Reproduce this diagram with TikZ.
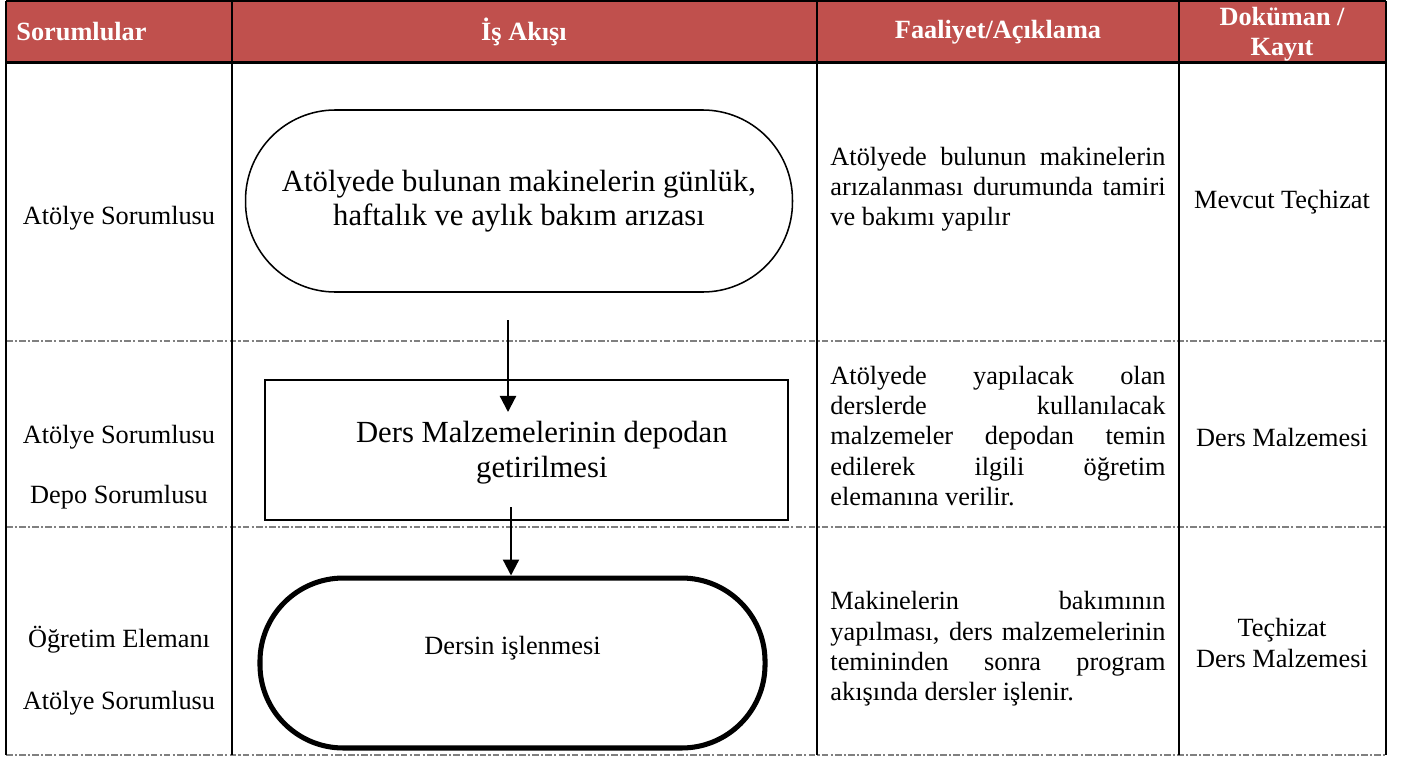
\documentclass[tikz,border=0pt]{standalone}
\usepackage{fontspec}
\setmainfont{Liberation Serif}
\usetikzlibrary{arrows.meta}
\definecolor{hdrred}{HTML}{C0504D}
\newcommand{\jline}[1]{\makebox[152.8pt][s]{#1}}

\begin{document}
\begin{tikzpicture}[x=0.456pt, y=-0.456pt,
  hdr/.style={text=white, font=\bfseries\fontsize{12}{12.5}\selectfont, inner sep=0pt},
  cell/.style={font=\fontsize{12}{13.8}\selectfont, inner sep=0pt},
  desc/.style={cell, anchor=west, align=left},
  term/.style={draw, rounded corners=#1, inner sep=0pt, align=center},
  flow/.style={-{Triangle[width=7.3pt,length=7.3pt]}, line width=1pt},
  rule/.style={line width=0.9pt},
  sep/.style={gray, line width=0.5pt, dash pattern=on 3pt off 1pt on 1pt off 1pt}]
\useasboundingbox (0,0) rectangle (1409,760);

% Table
\fill[hdrred] (6,1) rectangle (1386,62);
\foreach \y in {341,527,755}
  \draw[sep] (6,\y) -- (1386,\y);
\foreach \x in {6,232,817,1179,1386}
  \draw[rule] (\x,1) -- (\x,755);
\draw[rule] (6,1) -- (1386,1);
\draw[line width=1.8pt] (6,62.5) -- (1386,62.5);

% Header
\node[hdr, anchor=west] (hsor) at (16,32) {Sorumlular};
\node[hdr] (hakis) at (524,32) {İş Akışı};
\node[hdr] (hfaal) at (998,32) {Faaliyet/Açıklama};
\node[hdr, align=center, font=\bfseries\fontsize{12}{13.5}\selectfont] (hdok) at (1282,34) {Doküman /\\Kayıt};

% Sorumlular
\node[cell] (sor1) at (119,218) {Atölye Sorumlusu};
\node[cell] (sor2a) at (119,437) {Atölye Sorumlusu};
\node[cell] (sor2b) at (119,497) {Depo Sorumlusu};
\node[cell] (sor3a) at (119,640) {Öğretim Elemanı};
\node[cell] (sor3b) at (119,703) {Atölye Sorumlusu};

% Define the nodes
\node[term=41pt, line width=0.7pt, minimum width=249.4pt, minimum height=83pt,
  font=\fontsize{14}{15.5}\selectfont] (bakim) at (519,201)
  {Atölyede bulunan makinelerin günlük,\\haftalık ve aylık bakım arızası};
\node[draw, line width=0.9pt, inner sep=0pt, minimum width=238.5pt, minimum height=63.8pt,
  align=center, text depth=1pt, font=\fontsize{14}{16}\selectfont] (malzeme) at (526.5,450)
  {\hspace*{14pt}Ders Malzemelerinin depodan\\\hspace*{14pt}getirilmesi};
\node[term=38pt, line width=2.3pt, minimum width=230.3pt, minimum height=77.5pt,
  text depth=16pt, font=\fontsize{12}{13.8}\selectfont] (dersin) at (512.5,663)
  {Dersin işlenmesi};

% Connect the nodes
\coordinate (ok1) at (508,320);
\coordinate (ok1e) at (508,412);
\coordinate (ok2) at (511,507);
\draw[flow] (ok1) -- (ok1e);
\draw[flow] (ok2) -- (ok2 |- dersin.north);

% Faaliyet/Aciklama
\node[desc] (faal1) at (830,189)
  {\jline{Atölyede bulunun makinelerin}\\\jline{arızalanması durumunda tamiri}\\ve bakımı yapılır};
\node[desc] (faal2) at (830,436)
  {\jline{Atölyede yapılacak olan}\\\jline{derslerde kullanılacak}\\\jline{malzemeler depodan temin}\\\jline{edilerek ilgili öğretim}\\elemanına verilir.};
\node[desc] (faal3) at (830,649)
  {\jline{Makinelerin bakımının}\\\jline{yapılması, ders malzemelerinin}\\\jline{temininden sonra program}\\akışında dersler işlenir.};

% Dokuman / Kayit
\node[cell] (dok1) at (1282,202) {Mevcut Teçhizat};
\node[cell] (dok2) at (1282,437) {Ders Malzemesi};
\node[cell, align=center] (dok3) at (1282,643) {Teçhizat\\Ders Malzemesi};
\end{tikzpicture}
\end{document}
